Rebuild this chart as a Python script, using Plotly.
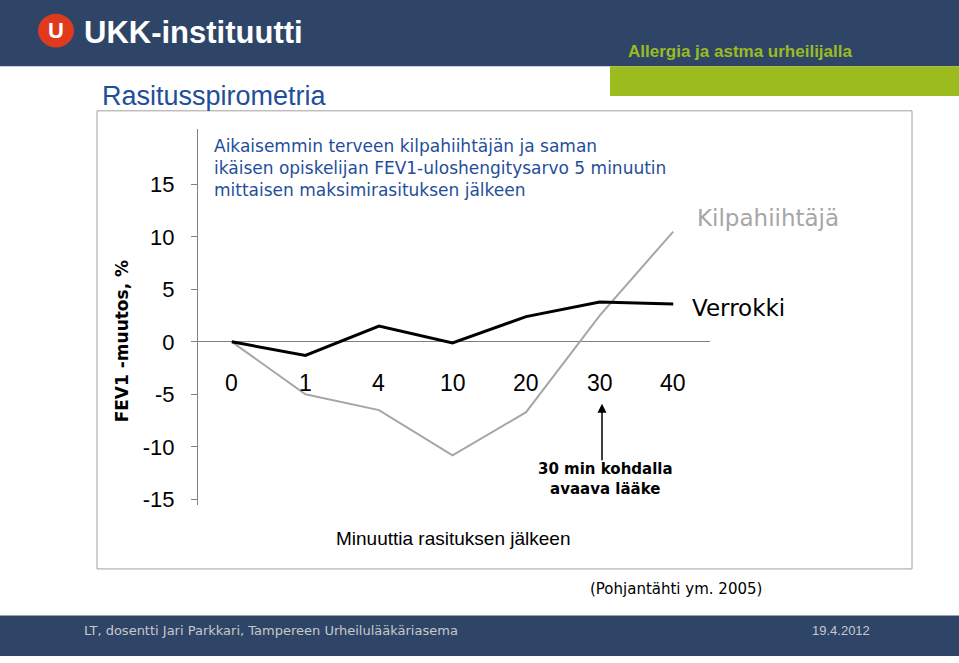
import plotly.graph_objects as go

categories = ["0", "1", "4", "10", "20", "30", "40"]
verrokki = [0, -1.3, 1.5, -0.1, 2.4, 3.8, 3.6]
kilpa = [0, -5.0, -6.5, -10.8, -6.7, 2.5, 10.5]
yticks = [15, 10, 5, 0, -5, -10, -15]

W, H = 959, 663
def px(x): return x / W
def py(y): return 1 - y / H

xs = list(range(len(categories)))
fig = go.Figure()
fig.add_trace(go.Scatter(x=xs, y=kilpa, mode="lines", line=dict(color="#A6A6A6", width=2), showlegend=False))
fig.add_trace(go.Scatter(x=xs, y=verrokki, mode="lines", line=dict(color="black", width=3), showlegend=False))

fig.update_layout(
    width=W, height=H, margin=dict(l=0, r=0, t=0, b=0),
    paper_bgcolor="white", plot_bgcolor="rgba(0,0,0,0)",
    font=dict(family="Liberation Sans, Arial", color="black"),
    xaxis=dict(domain=[px(198), px(710)], range=[-0.46, 6.5], showgrid=False, zeroline=False,
               showticklabels=False, showline=False),
    yaxis=dict(domain=[py(510), py(130)], range=[-15.5, 20.3], showgrid=False, zeroline=True,
               zerolinecolor="#808080", zerolinewidth=1,
               showline=True, linecolor="#808080", ticks="outside", tickcolor="#808080", ticklen=6,
               tickvals=yticks, ticktext=[str(v) for v in yticks], tickfont=dict(size=22), ticklabelstandoff=12),
)

shapes = [
    dict(type="rect", xref="paper", yref="paper", x0=0, x1=1, y0=py(67), y1=1, fillcolor="#2E4568", line_width=0, layer="below"),
    dict(type="rect", xref="paper", yref="paper", x0=px(610), x1=1, y0=py(97), y1=py(67), fillcolor="#9BBB1F", line_width=0, layer="below"),
    dict(type="rect", xref="paper", yref="paper", x0=px(97), x1=px(912), y0=py(575), y1=py(112), fillcolor="rgba(0,0,0,0)", line=dict(color="#A0A0A0", width=1)),
    dict(type="rect", xref="paper", yref="paper", x0=0, x1=1, y0=0, y1=py(622), fillcolor="#2E4568", line_width=0, layer="below"),
    dict(type="circle", xref="paper", yref="paper", x0=px(38), x1=px(74), y0=py(48), y1=py(14), fillcolor="#E03A1E", line_width=0),
]
fig.update_layout(shapes=shapes)

ann = []
def t(x, y, s, size, color="black", xa="left", bold=False, family=None, **kw):
    d = dict(xref="paper", yref="paper", x=px(x), y=py(y), text=(f"<b>{s}</b>" if bold else s), showarrow=False,
             xanchor=xa, yanchor="middle", font=dict(size=size, color=color, family=family or "Liberation Sans, Arial"))
    d.update(kw); ann.append(d)

t(56, 31, "U", 22, "white", xa="center", bold=True)
t(82, 33, "UKK-instituutti", 31, "white", bold=True)
t(740, 52, "Allergia ja astma urheilijalla", 17, "#9BBB1F", xa="center", bold=True)
t(100, 97, "Rasitusspirometria", 27, "#1F4E9B")
t(212, 170, "Aikaisemmin terveen kilpahiihtäjän ja saman<br>ikäisen opiskelijan FEV1-uloshengitysarvo 5 minuutin<br>mittaisen maksimirasituksen jälkeen", 17, "#1F4E9B", family="DejaVu Sans", align="left")
t(768, 220, "Kilpahiihtäjä", 23, "#A6A6A6", xa="center", family="DejaVu Sans")
t(738, 311, "Verrokki", 23, "black", xa="center", family="DejaVu Sans")
t(122, 345, "FEV1 -muutos, %", 17, "black", xa="center", bold=True, textangle=-90, family="DejaVu Sans")
for i, c in enumerate(categories):
    ann.append(dict(xref="x", yref="y", x=i, y=-3.9, text=c, showarrow=False, font=dict(size=23)))
t(605, 484, "30 min kohdalla<br>avaava lääke", 15, "black", xa="center", bold=True, family="DejaVu Sans")
t(453, 544, "Minuuttia rasituksen jälkeen", 19, "black", xa="center")
t(676, 595, "(Pohjantähti ym. 2005)", 15, "black", xa="center", family="DejaVu Sans")
t(82, 637, "LT, dosentti Jari Parkkari, Tampereen Urheilulääkäriasema", 13, "#C8C8C8", family="DejaVu Sans")
t(872, 637, "19.4.2012", 13, "#C8C8C8", xa="right")
ann.append(dict(xref="paper", yref="paper", x=px(602), y=py(408), ax=0, ay=58,
                text="", showarrow=True, arrowhead=2, arrowsize=1.2, arrowwidth=1.5, arrowcolor="black"))
fig.update_layout(annotations=ann)
fig.write_html("out.html", config={"displayModeBar": False},
               post_script="document.body.style.margin='0';")
